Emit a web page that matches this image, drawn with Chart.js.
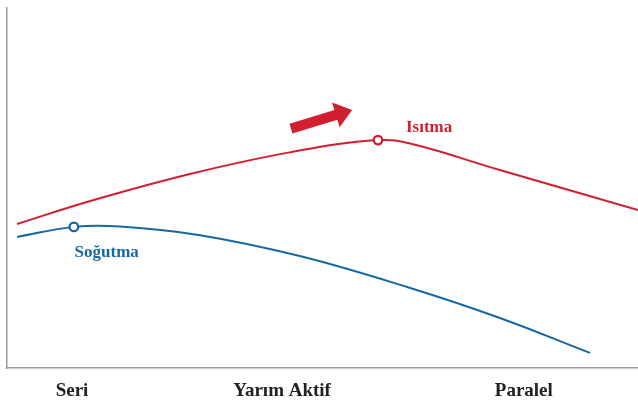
<!DOCTYPE html>
<html>
<head>
<meta charset="utf-8">
<script src="https://cdn.jsdelivr.net/npm/chart.js@4.4.1/dist/chart.umd.min.js"></script>
<style>
  html, body { margin: 0; padding: 0; background: #ffffff; }
  #wrap { width: 638px; height: 401px; position: relative; }
</style>
</head>
<body>
<div id="wrap"><canvas id="c"></canvas></div>
<script>
// ---- data ----
const categories = ["Seri", "Yarım Aktif", "Paralel"];
const categoryPositions = [10.3, 43.6, 81.9];

const heatingX = [1.6, 13.2, 29.0, 44.8, 58.8, 64.2, 78.1, 100];
const heatingY = [40.0, 46.4, 53.9, 59.9, 63.3, 62.2, 55.0, 43.9];
const heatingPeakIndex = 4;

const coolingX = [1.6, 10.6, 17.9, 30.6, 46.4, 63.4, 78.1, 92.4];
const coolingY = [36.4, 39.2, 39.3, 36.9, 31.1, 22.5, 13.9, 4.2];
const coolingPeakIndex = 1;

const seriesNames = ["Isıtma", "Soğutma"];

// ---- styles ----
const RED = "#d11f30";
const BLUE = "#1767a2";
const AXIS = "#9a9a9a";
const SERIF = "'Liberation Serif', 'DejaVu Serif', serif";

function pts(xs, ys) { return xs.map((x, i) => ({ x: x, y: ys[i] })); }
function radii(n, idx) { return Array.from({ length: n }, (_, i) => i === idx ? 4.3 : 0); }

const annotationPlugin = {
  id: "annotations",
  afterDatasetsDraw(chart) {
    const ctx = chart.ctx;
    const xs = chart.scales.x, ys = chart.scales.y;
    // arrow
    const tail = { x: xs.getPixelForValue(45.0), y: ys.getPixelForValue(66.5) };
    const tip = { x: xs.getPixelForValue(54.7), y: ys.getPixelForValue(71.7) };
    const dx = tip.x - tail.x, dy = tip.y - tail.y;
    const len = Math.hypot(dx, dy);
    const ux = dx / len, uy = dy / len;
    const nx = -uy, ny = ux;
    const sw = 5, hl = 17, hw = 13;
    const bx = tip.x - ux * hl, by = tip.y - uy * hl;
    ctx.save();
    ctx.fillStyle = RED;
    ctx.beginPath();
    ctx.moveTo(tail.x + nx * sw, tail.y + ny * sw);
    ctx.lineTo(bx + nx * sw, by + ny * sw);
    ctx.lineTo(bx + nx * hw, by + ny * hw);
    ctx.lineTo(tip.x, tip.y);
    ctx.lineTo(bx - nx * hw, by - ny * hw);
    ctx.lineTo(bx - nx * sw, by - ny * sw);
    ctx.lineTo(tail.x - nx * sw, tail.y - ny * sw);
    ctx.closePath();
    ctx.fill();
    // labels
    ctx.font = "bold 17px " + SERIF;
    ctx.textAlign = "center";
    ctx.textBaseline = "alphabetic";
    ctx.fillStyle = RED;
    ctx.fillText(seriesNames[0], xs.getPixelForValue(66.9), ys.getPixelForValue(65.6));
    ctx.fillStyle = BLUE;
    ctx.fillText(seriesNames[1], xs.getPixelForValue(15.8), ys.getPixelForValue(30.8));
    ctx.restore();
  }
};

new Chart(document.getElementById("c"), {
  type: "line",
  data: {
    datasets: [
      {
        label: seriesNames[0],
        data: pts(heatingX, heatingY),
        borderColor: RED,
        borderWidth: 2,
        pointRadius: radii(heatingX.length, heatingPeakIndex),
        pointBackgroundColor: "#ffffff",
        pointBorderColor: RED,
        pointBorderWidth: 2.3,
        tension: 0.4,
        fill: false
      },
      {
        label: seriesNames[1],
        data: pts(coolingX, coolingY),
        borderColor: BLUE,
        borderWidth: 2,
        pointRadius: radii(coolingX.length, coolingPeakIndex),
        pointBackgroundColor: "#ffffff",
        pointBorderColor: BLUE,
        pointBorderWidth: 2.3,
        tension: 0.4,
        fill: false
      }
    ]
  },
  options: {
    responsive: true,
    maintainAspectRatio: false,
    animation: false,
    layout: { padding: { left: 7, top: 8, right: 0, bottom: 0 } },
    plugins: { legend: { display: false }, tooltip: { enabled: false } },
    scales: {
      x: {
        type: "linear",
        min: 0,
        max: 100,
        grid: { display: false },
        border: { display: true, color: AXIS, width: 1.5 },
        afterBuildTicks: (axis) => { axis.ticks = categoryPositions.map(v => ({ value: v })); },
        afterFit: (axis) => { axis.height = 33; },
        ticks: {
          autoSkip: false,
          maxRotation: 0,
          padding: 4,
          color: "#222222",
          font: { family: SERIF, size: 19, weight: "bold" },
          callback: (v, i) => categories[i]
        }
      },
      y: {
        type: "linear",
        min: 0,
        max: 100,
        grid: { display: false },
        border: { display: true, color: AXIS, width: 1.5 },
        ticks: { display: false },
        afterFit: (axis) => { axis.width = 0; }
      }
    }
  },
  plugins: [annotationPlugin]
});
</script>
</body>
</html>
